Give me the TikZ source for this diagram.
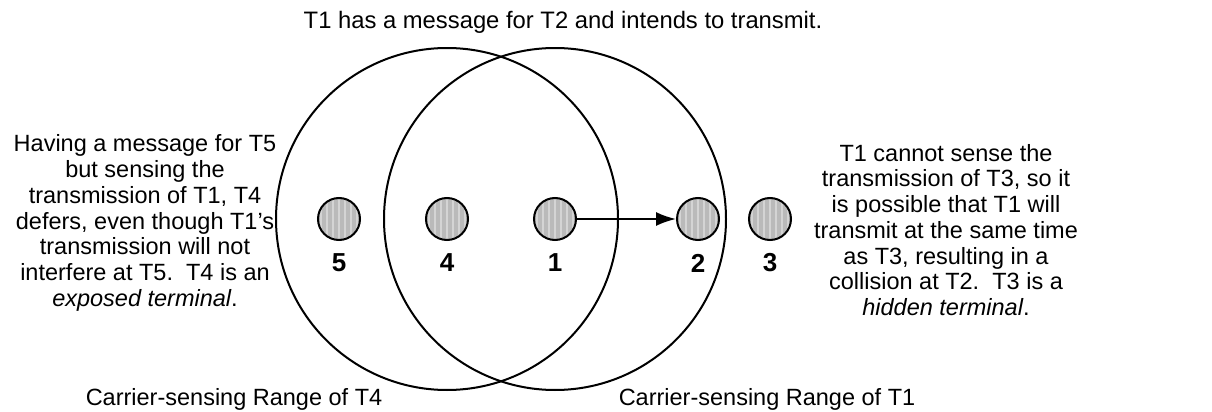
\documentclass[tikz,border=0pt]{standalone}
\usepackage{fontspec}
\setmainfont{Liberation Sans}
\usetikzlibrary{arrows.meta}
\begin{document}
\begin{tikzpicture}[x=0.5pt, y=-0.5pt, font=\fontsize{11.75}{12.85}\selectfont,
  term/.style={circle, draw, line width=1pt, minimum size=21pt, inner sep=0pt, fill=black!27,
    path picture={\foreach \i in {-9,-6,...,9}
      \draw[black!17, line width=0.9pt] ([xshift=\i pt]path picture bounding box.north) -- ([xshift=\i pt]path picture bounding box.south);}},
  num/.style={font=\fontsize{13}{15}\selectfont\bfseries},
  senserange/.style={draw, line width=1pt},
  note/.style={align=center}]
\useasboundingbox (0,0) rectangle (1212,412);
\draw[senserange] (447,219) circle[radius=85.5pt];
\draw[senserange] (555,219) circle[radius=85.5pt];
\node[term] (t5) at (339,219) {};
\node[term] (t4) at (447,219) {};
\node[term] (t1) at (555,219) {};
\node[term] (t2) at (698,219) {};
\node[term] (t3) at (770,219) {};
\node[num] (n5) at (339,263) {5};
\node[num] (n4) at (447,263) {4};
\node[num] (n1) at (555,263) {1};
\node[num] (n2) at (698,263) {2};
\node[num] (n3) at (770,263) {3};
\draw[line width=1pt, -{Latex[length=10pt,width=7pt]}] (t1) -- (t2);
\node[note, anchor=base, font=\fontsize{11.9}{13}\selectfont] (title) at (563,28) {T1 has a message for T2 and intends to transmit.};
\node[note] (exposed) at (145,223) {Having a message for T5\\but sensing the\\transmission of T1, T4\\defers, even though T1's\\transmission will not\\interfere at T5.~\ T4 is an\\\textit{exposed terminal}.};
\node[note] (hidden) at (946,230) {T1 cannot sense the\\transmission of T3, so it\\is possible that T1 will\\transmit at the same time\\as T3, resulting in a\\collision at T2.~\ T3 is a\\\textit{hidden terminal}.};
\node[anchor=base] (range4) at (234,405) {Carrier-sensing Range of T4};
\node[anchor=base] (range1) at (767,405) {Carrier-sensing Range of T1};
\end{tikzpicture}
\end{document}
